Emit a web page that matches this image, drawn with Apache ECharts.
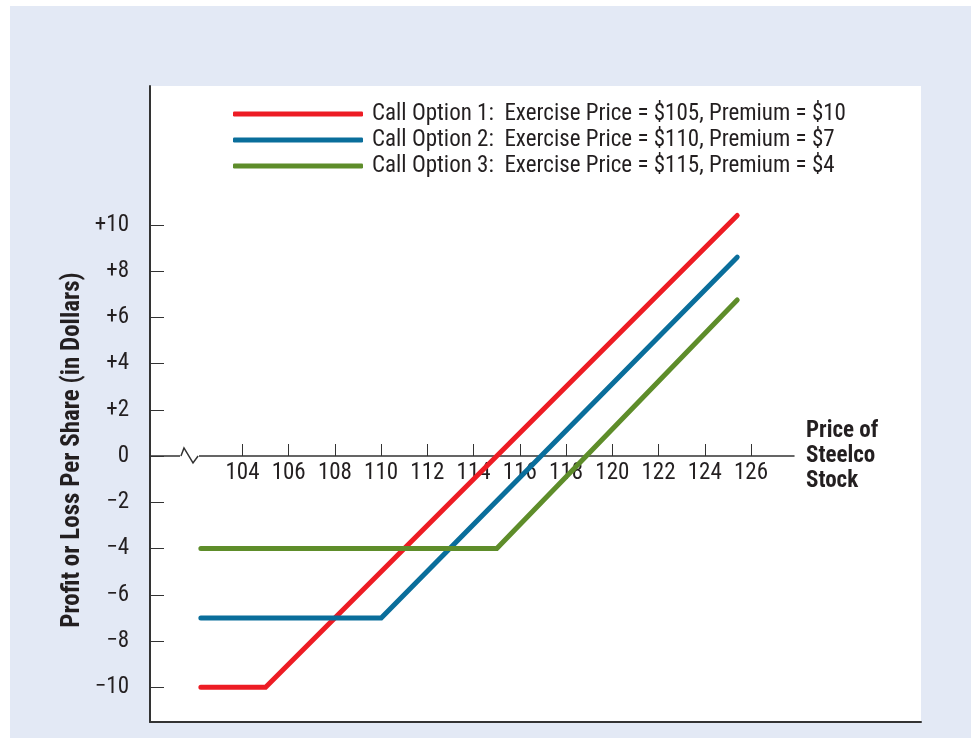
<!DOCTYPE html>
<html>
<head>
<meta charset="utf-8">
<script src="https://cdn.jsdelivr.net/npm/echarts@6/dist/echarts.min.js"></script>
<style>
  html, body { margin: 0; padding: 0; background: #fff; }
  #chart { width: 973px; height: 739px; }
</style>
</head>
<body>
<div id="chart"></div>
<script>
// Profit/loss at expiration for three call options on Steelco stock
const seriesNames = [
  'Call Option 1:  Exercise Price = $105, Premium = $10',
  'Call Option 2:  Exercise Price = $110, Premium = $7',
  'Call Option 3:  Exercise Price = $115, Premium = $4'
];
const call1Price = [102.2, 105, 125.4];
const call1Profit = [-10, -10, 10.4];
const call2Price = [102.2, 110, 125.4];
const call2Profit = [-7, -7, 8.6];
const call3Price = [102.2, 115, 125.4];
const call3Profit = [-4, -4, 6.75];

const priceTicks = [104, 106, 108, 110, 112, 114, 116, 118, 120, 122, 124, 126];
const profitTicks = [-10, -8, -6, -4, -2, 0, 2, 4, 6, 8, 10];

// break mark drawn over the left end of the zero line
const breakGapPrice = [101.3, 102.12];
const breakPrice = [101.34, 101.47, 101.86, 102.08];
const breakProfit = [0, 0.35, -0.3, 0];

const colors = ['#ED1C24', '#0A6E9B', '#5E8D2A'];
const FONT = '"Roboto Condensed", "DejaVu Sans Condensed", "Liberation Sans Narrow", sans-serif';
const INK = '#231F20';
const SIZE = 23;

const zip = (xs, ys) => xs.map((x, i) => [x, ys[i]]);
const fmtProfit = v => v > 0 ? '+' + v : (v < 0 ? '\u2212' + Math.abs(v) : '0');

const chart = echarts.init(document.getElementById('chart'), null, { renderer: 'canvas' });

const lineSeries = (name, xs, ys, color) => ({
  name, type: 'line', xAxisIndex: 0, yAxisIndex: 0,
  data: zip(xs, ys), symbol: 'none', silent: true, z: 5,
  lineStyle: { color, width: 5, cap: 'round', join: 'miter' },
  itemStyle: { color }
});

chart.setOption({
  backgroundColor: '#fff',
  animation: false,
  textStyle: { fontFamily: FONT, color: INK },
  graphic: [
    { type: 'rect', z: -10, silent: true,
      shape: { x: 10, y: 6, width: 961, height: 732 },
      style: { fill: '#E3E9F5' } },
    { type: 'text', silent: true, x: 73, y: 450, rotation: Math.PI / 2,
      style: { text: 'Profit or Loss Per Share (in Dollars)', fill: INK,
        font: 'bold 25px ' + FONT, align: 'center', verticalAlign: 'middle' } }
  ],
  grid: [
    // full plotting panel
    { left: 150, right: 52, top: 86, bottom: 17, show: true, outerBoundsMode: 'none',
      backgroundColor: '#fff', borderWidth: 0, z: -5 },
    // upper half, whose bottom edge is the zero line of the price axis
    { left: 150, right: 179, top: 86, bottom: 283, outerBoundsMode: 'none' }
  ],
  legend: {
    data: seriesNames, orient: 'vertical', left: 228, top: 96,
    itemWidth: 130, itemHeight: 5, itemGap: 0, icon: 'roundRect',
    selectedMode: false, padding: 5,
    textStyle: { fontFamily: FONT, fontSize: SIZE, color: INK, lineHeight: 26,
      padding: [0, 0, 0, 4] }
  },
  xAxis: [
    { type: 'value', gridIndex: 0, min: 100, max: 133.35,
      axisLine: { show: true, onZero: false, lineStyle: { color: '#333', width: 2 } },
      axisTick: { show: false }, axisLabel: { show: false }, splitLine: { show: false } },
    { type: 'value', gridIndex: 1, min: 100, max: 127.86, position: 'bottom',
      name: 'Price of\nSteelco\nStock', nameLocation: 'end', nameGap: 12,
      nameTextStyle: { fontFamily: FONT, fontWeight: 'bold', fontSize: 23, color: INK,
        lineHeight: 25, align: 'left', verticalAlign: 'middle' },
      axisLine: { show: true, onZero: false, lineStyle: { color: '#333', width: 1.5 } },
      axisTick: { show: true, inside: true, length: 12, customValues: priceTicks,
        lineStyle: { color: '#333', width: 1 } },
      axisLabel: { show: true, customValues: priceTicks, margin: 6,
        fontFamily: FONT, fontSize: SIZE, color: INK },
      splitLine: { show: false } }
  ],
  yAxis: [
    { type: 'value', gridIndex: 0, min: -11.5, max: 16,
      axisLine: { show: true, onZero: false, lineStyle: { color: '#333', width: 2 } },
      axisTick: { show: true, inside: true, length: 14, customValues: profitTicks,
        lineStyle: { color: '#333', width: 1 } },
      axisLabel: { show: true, customValues: profitTicks, margin: 21,
        fontFamily: FONT, fontSize: SIZE, color: INK, formatter: fmtProfit },
      splitLine: { show: false } },
    { type: 'value', gridIndex: 1, min: 0, max: 16, show: false }
  ],
  series: [
    { name: 'gap', type: 'line', xAxisIndex: 0, yAxisIndex: 0,
      data: zip(breakGapPrice, [0, 0]), symbol: 'none', silent: true, z: 3,
      lineStyle: { color: '#fff', width: 4 } },
    { name: 'break', type: 'line', xAxisIndex: 0, yAxisIndex: 0,
      data: zip(breakPrice, breakProfit), symbol: 'none', silent: true, z: 4,
      lineStyle: { color: '#333', width: 1.5, join: 'miter' } },
    lineSeries(seriesNames[0], call1Price, call1Profit, colors[0]),
    lineSeries(seriesNames[1], call2Price, call2Profit, colors[1]),
    lineSeries(seriesNames[2], call3Price, call3Profit, colors[2])
  ]
});
</script>
</body>
</html>
